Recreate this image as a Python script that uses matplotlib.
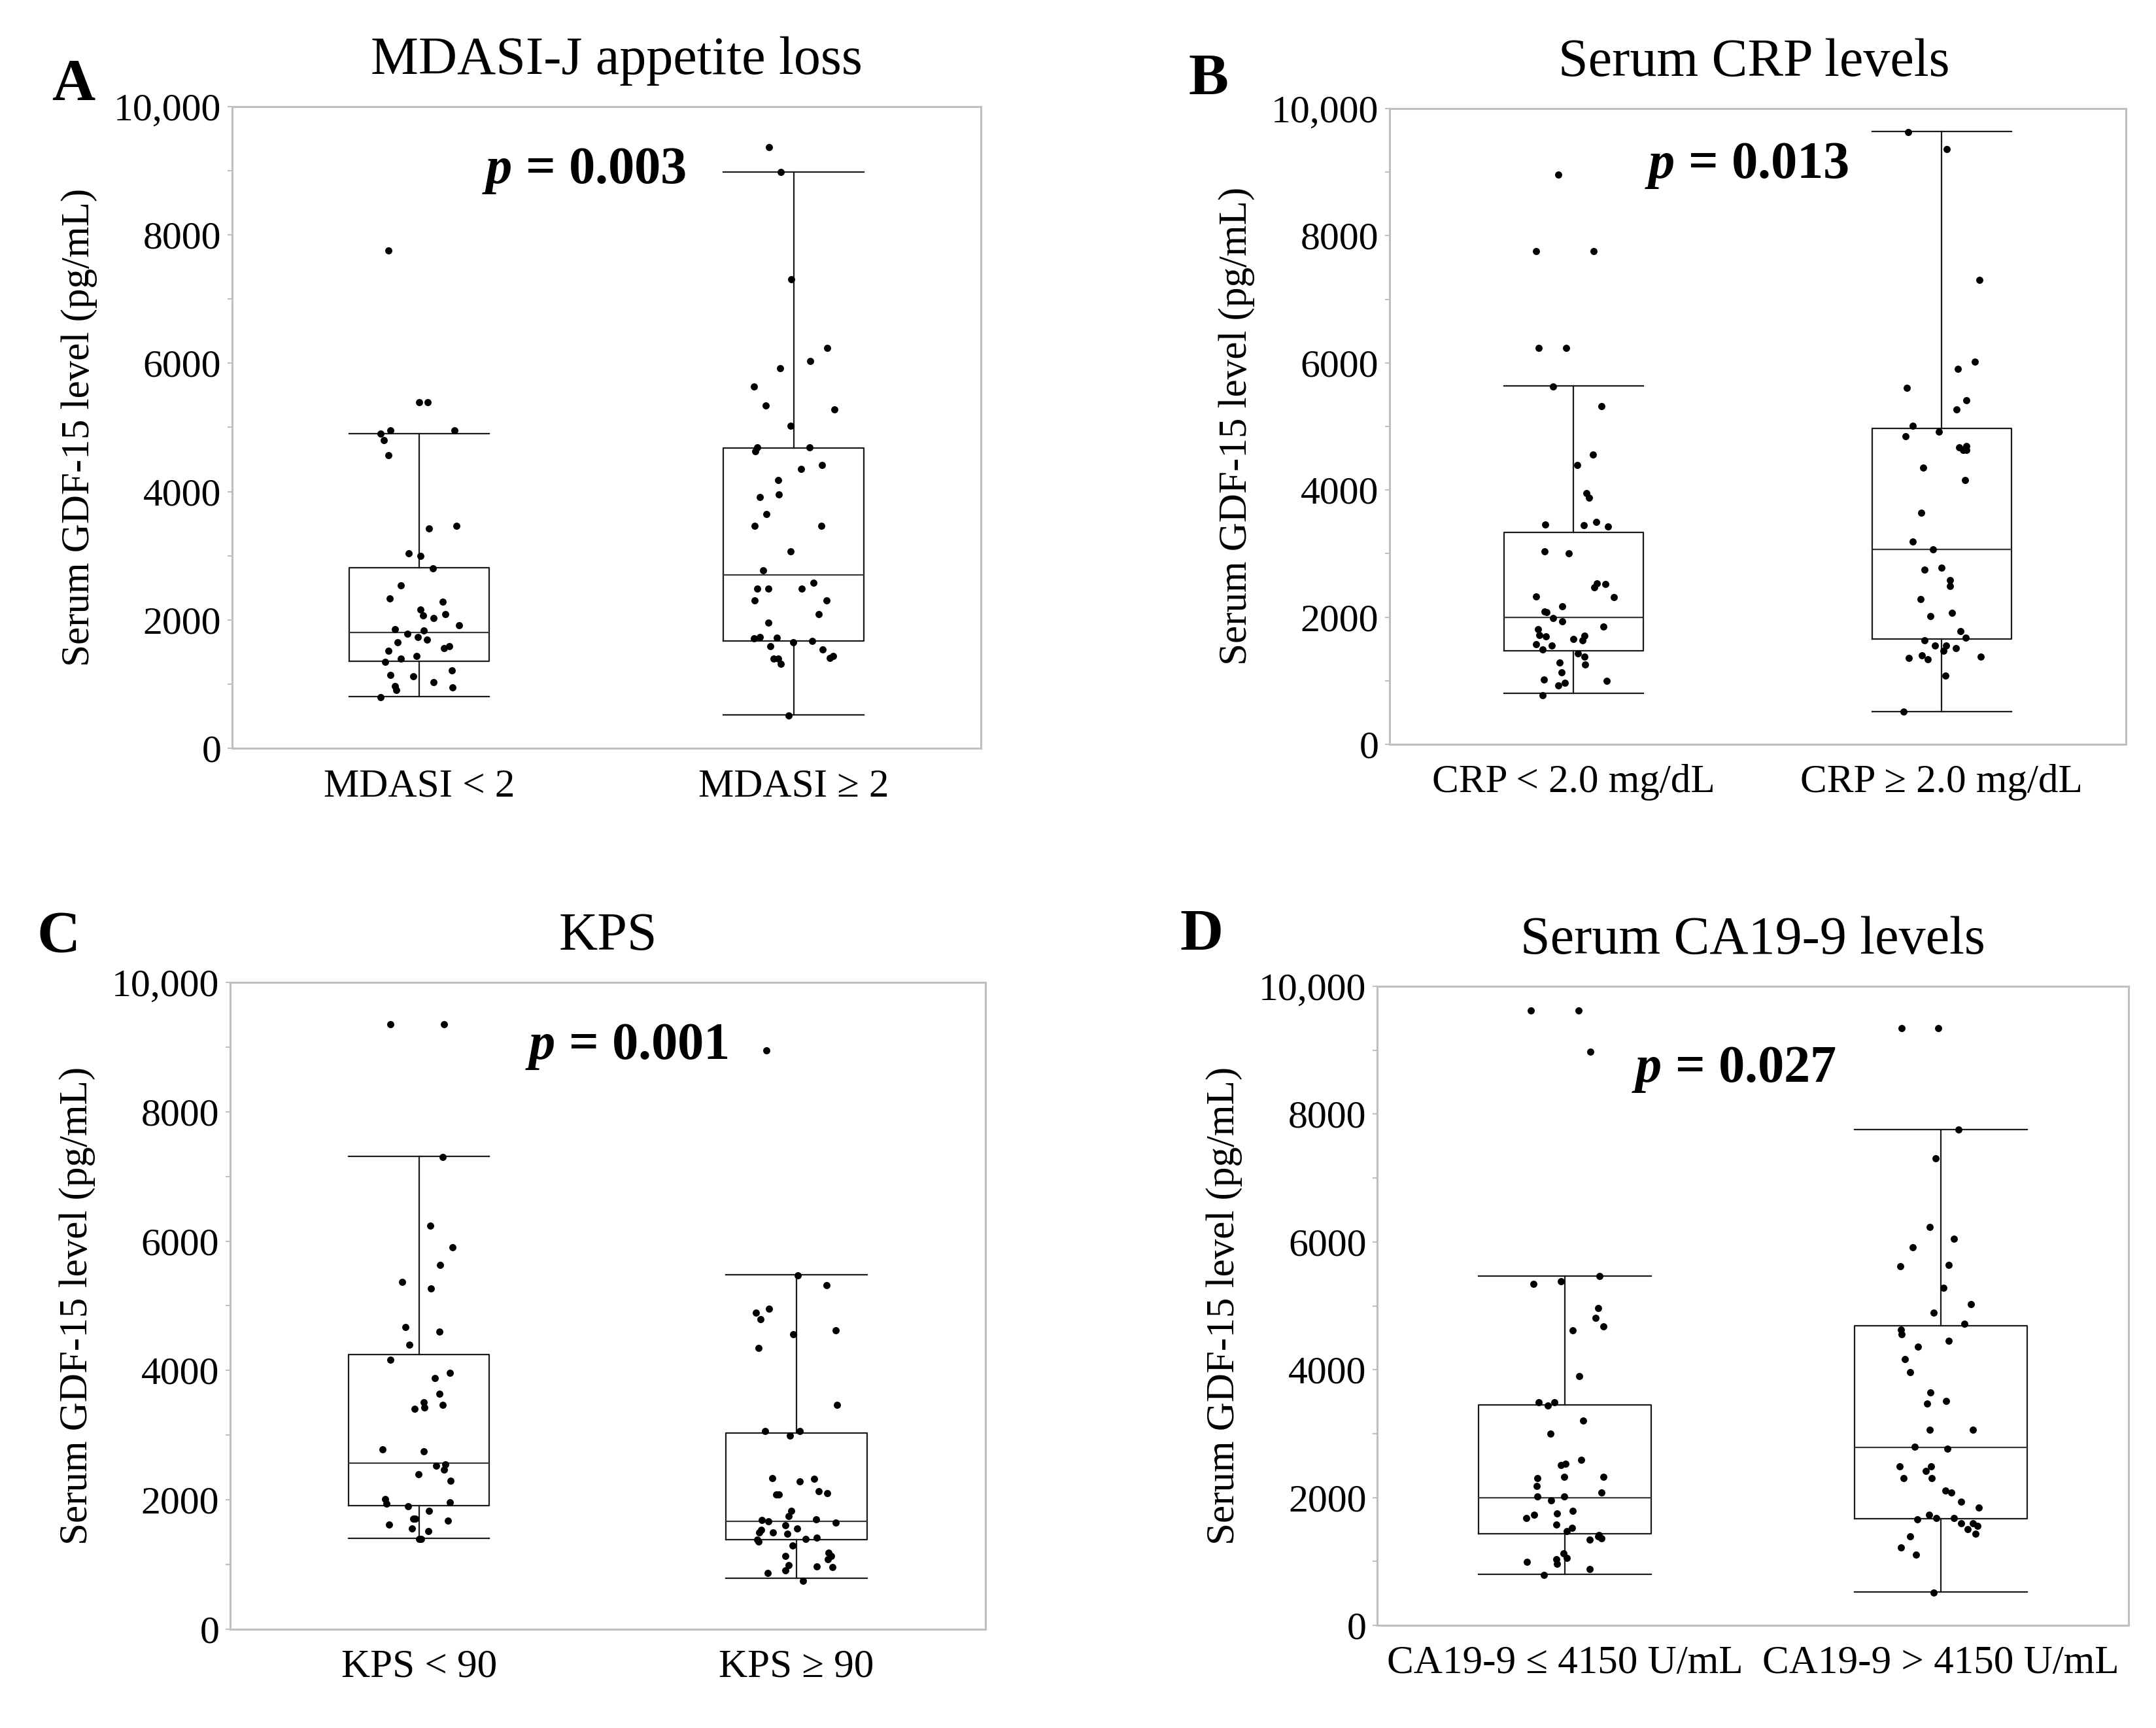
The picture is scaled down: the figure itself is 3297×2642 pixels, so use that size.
"""Serum GDF-15 by clinical subgroup: four box plots with jittered points."""

import matplotlib
matplotlib.use("Agg")
import matplotlib.pyplot as plt
import numpy as np
from matplotlib.ticker import FixedLocator, MultipleLocator

plt.rcParams["font.family"] = ["Liberation Serif", "DejaVu Serif"]
plt.rcParams["mathtext.fontset"] = "custom"
plt.rcParams["mathtext.rm"] = "Liberation Serif"
plt.rcParams["mathtext.it"] = "Liberation Serif:italic"
plt.rcParams["mathtext.bf"] = "Liberation Serif:bold"
plt.rcParams["mathtext.bfit"] = "Liberation Serif:italic:bold"

# ---- data (pg/mL) ----
# box stats: (whisker low, Q1, median, Q3, whisker high)
mdasi_labels = ["MDASI < 2", "MDASI ≥ 2"]
mdasi_low = [7760, 5390, 5390, 4900, 4950, 4950, 4800, 4570, 3470, 3420, 3040, 3000,
             2800, 2540, 2330, 2280, 2030, 2160, 2090, 2070, 1920, 1860, 1830, 1730,
             1780, 1690, 1650, 1560, 1590, 1520, 1440, 1400, 1350, 1210, 1120, 1140,
             1030, 970, 950, 910, 790]
mdasi_high = [9370, 8980, 7310, 6240, 6030, 5920, 5640, 5340, 5280, 5030, 4690, 4690,
              4630, 4410, 4350, 4180, 3960, 3910, 3650, 3470, 3470, 3070, 2770, 2580,
              2490, 2490, 2490, 2300, 2300, 2090, 1960, 1730, 1710, 1720, 1670, 1650,
              1540, 1590, 1400, 1400, 1440, 1410, 1310, 510]
mdasi_stats = [(810, 1360, 1800, 2810, 4900), (520, 1670, 2700, 4680, 8980)]

crp_labels = ["CRP < 2.0 mg/dL", "CRP ≥ 2.0 mg/dL"]
crp_low = [8960, 7760, 7760, 6230, 6230, 5630, 5320, 4560, 4390, 3950, 3880, 3500,
           3430, 3460, 3450, 3030, 3000, 2530, 2520, 2470, 2320, 2170, 2080, 2310,
           2090, 1980, 1930, 1810, 1850, 1710, 1700, 1660, 1720, 1640, 1550, 1570,
           1490, 1430, 1380, 1280, 1250, 1130, 1020, 920, 970, 1000, 770]
crp_high = [9630, 9360, 7300, 6020, 5900, 5610, 5410, 5270, 5010, 4920, 4840, 4690,
            4670, 4630, 4630, 4350, 4160, 3640, 3190, 3060, 2780, 2750, 2580, 2490,
            2280, 2070, 2020, 1780, 1640, 1680, 1550, 1550, 1510, 1470, 1400, 1380,
            1360, 1340, 1080, 510]
crp_stats = [(800, 1470, 2000, 3330, 5640), (510, 1660, 3070, 4970, 9640)]

kps_labels = ["KPS < 90", "KPS ≥ 90"]
kps_low = [9350, 9350, 7300, 6240, 5900, 5630, 5370, 5270, 4670, 4600, 4400, 4170,
           3960, 3880, 3640, 3510, 3470, 3410, 3430, 2780, 2750, 2550, 2530, 2470,
           2400, 2290, 1940, 1960, 1900, 2010, 1830, 1710, 1710, 1680, 1620, 1520,
           1560, 1390, 1390]
kps_high = [8950, 5470, 5320, 4950, 4890, 4790, 4560, 4620, 4350, 3470, 3060, 3060,
            2990, 2330, 2320, 2280, 2080, 2080, 2100, 2130, 1830, 1750, 1700, 1650,
            1690, 1670, 1610, 1560, 1540, 1500, 1500, 1480, 1410, 1390, 1380, 1350,
            1290, 1080, 1130, 1130, 1180, 960, 990, 970, 910, 870, 750]
kps_stats = [(1400, 1910, 2570, 4250, 7310), (790, 1380, 1670, 3030, 5480)]

ca_labels = ["CA19-9 ≤ 4150 U/mL", "CA19-9 > 4150 U/mL"]
ca_low = [9620, 9620, 8980, 5470, 5380, 5340, 4960, 4810, 4680, 4620, 3900, 3490,
          3490, 3440, 3200, 3000, 2590, 2530, 2510, 2320, 2300, 2320, 2180, 2080,
          2020, 1960, 2020, 1790, 1750, 1730, 1680, 1580, 1530, 1470, 1390, 1410,
          1360, 1340, 1130, 1050, 1030, 960, 990, 880, 790]
ca_high = [9350, 9350, 7760, 7310, 6230, 6050, 5920, 5620, 5640, 5280, 5030, 4890,
           4720, 4630, 4560, 4450, 4360, 4170, 3960, 3640, 3470, 3510, 3060, 3060,
           2790, 2760, 2490, 2490, 2420, 2300, 2300, 2110, 2080, 1940, 1840, 1730,
           1680, 1680, 1660, 1600, 1600, 1560, 1510, 1430, 1390, 1220, 1110, 510]
ca_stats = [(800, 1430, 2000, 3450, 5470), (520, 1670, 2780, 4690, 7760)]

y_ticks = [0, 2000, 4000, 6000, 8000, 10000]
y_tick_labels = ["0", "2000", "4000", "6000", "8000", "10,000"]

SPINE = "#BFBFBF"
rng = np.random.default_rng(11)


def draw_panel(ax, groups, stats, labels, title, title_x, p_text, p_x, p_y, width):
    keys = ("whislo", "q1", "med", "q3", "whishi")
    bstats = [dict(zip(keys, s), fliers=[]) for s in stats]
    line = dict(color="#1a1a1a", linewidth=1.6)
    ax.bxp(bstats, positions=[1, 2], widths=width, capwidths=width,
           showfliers=False, boxprops=line, whiskerprops=line, capprops=line,
           medianprops=dict(color="#3a3a3a", linewidth=1.6))
    for pos, vals in zip([1, 2], groups):
        x = pos + rng.uniform(-0.11, 0.11, len(vals))
        ax.scatter(x, vals, s=62, color="black", linewidths=0, zorder=3)

    ax.set_xlim(0.5, 2.5)
    ax.set_ylim(0, 10000)
    ax.set_xticks([1, 2])
    ax.set_xticklabels(labels, fontsize=44)
    ax.yaxis.set_major_locator(FixedLocator(y_ticks))
    ax.set_yticklabels(y_tick_labels, fontsize=43)
    ax.yaxis.set_minor_locator(MultipleLocator(1000))
    ax.tick_params(axis="x", length=0, pad=22)
    ax.tick_params(axis="y", which="both", length=5, width=1.5, color=SPINE, pad=7)
    for sp in ax.spines.values():
        sp.set_color(SPINE)
        sp.set_linewidth(2.2)
    ax.set_ylabel("Serum GDF-15 level (pg/mL)", fontsize=44, labelpad=18)
    ax.set_title(title, fontsize=59, x=title_x, pad=36)
    ax.text(p_x, p_y, p_text, fontsize=58, fontweight="bold",
            ha="center", va="center")


fig = plt.figure(figsize=(32.98, 26.42), dpi=100)

ax_a = fig.add_axes([0.1076, 0.5670, 0.3472, 0.3713])
ax_b = fig.add_axes([0.6443, 0.5693, 0.3414, 0.3679])
ax_c = fig.add_axes([0.1067, 0.0572, 0.3502, 0.3743])
ax_d = fig.add_axes([0.6386, 0.0594, 0.3484, 0.3698])

draw_panel(ax_a, [mdasi_low, mdasi_high], mdasi_stats, mdasi_labels,
           "MDASI-J appetite loss", 0.514, r"$\bfit{p}$ = 0.003", 1.44, 9000, 0.375)
draw_panel(ax_b, [crp_low, crp_high], crp_stats, crp_labels,
           "Serum CRP levels", 0.495, r"$\bfit{p}$ = 0.013", 1.47, 9100, 0.378)
draw_panel(ax_c, [kps_low, kps_high], kps_stats, kps_labels,
           "KPS", 0.5, r"$\bfit{p}$ = 0.001", 1.55, 9000, 0.373)
draw_panel(ax_d, [ca_low, ca_high], ca_stats, ca_labels,
           "Serum CA19-9 levels", 0.5, r"$\bfit{p}$ = 0.027", 1.45, 8700, 0.46)

for letter, x, y in [("A", 0.024, 0.942), ("B", 0.551, 0.945),
                     ("C", 0.017, 0.449), ("D", 0.547, 0.450)]:
    fig.text(x, y, letter, fontsize=66, fontweight="bold", ha="left", va="baseline")

fig.savefig("out.png", dpi=100)
